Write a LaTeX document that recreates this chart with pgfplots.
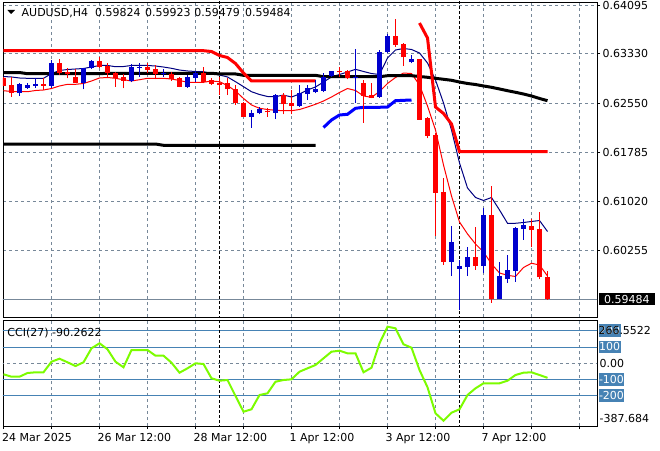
\documentclass[border=0pt]{standalone}
\usepackage{pgfplots}
\pgfplotsset{compat=1.18}
\usepackage{pgfplotstable}
\usepackage{fontspec}
\setmainfont{DejaVu Sans}
\definecolor{gridc}{HTML}{778899}
\definecolor{bullc}{HTML}{0000CD}
\definecolor{bearc}{HTML}{FF0000}
\definecolor{navyc}{HTML}{000080}
\definecolor{bluethick}{HTML}{0000FF}
\definecolor{lvl}{HTML}{4682B4}
\definecolor{ccic}{HTML}{7CFC00}

\pgfplotstableread{
k o h l c
2 0.62711 0.62868 0.62674 0.62852
3 0.62799 0.62877 0.62779 0.62841
4 0.62830 0.62946 0.62799 0.62857
6 0.62830 0.63233 0.62799 0.63181
10 0.62877 0.63112 0.62774 0.63103
11 0.63103 0.63233 0.63092 0.63217
16 0.62904 0.63166 0.62884 0.63119
17 0.63112 0.63181 0.62971 0.63128
20 0.63009 0.63092 0.62971 0.63025
23 0.62815 0.62998 0.62799 0.62962
24 0.62956 0.63061 0.62893 0.63034
31 0.62344 0.62449 0.62172 0.62398
32 0.62398 0.62501 0.62382 0.62460
34 0.62407 0.62695 0.62308 0.62684
37 0.62512 0.62841 0.62501 0.62711
38 0.62700 0.62841 0.62606 0.62790
39 0.62727 0.62920 0.62711 0.62779
40 0.62752 0.63025 0.62727 0.62971
41 0.62982 0.63068 0.62971 0.63061
44 0.62959 0.63405 0.62564 0.62970
47 0.62648 0.63390 0.62642 0.63354
48 0.63354 0.63641 0.63338 0.63609
51 0.63197 0.63311 0.63181 0.63244
56 0.60072 0.60631 0.59847 0.60385
57 0.59962 0.60098 0.59315 0.60004
58 0.59993 0.60297 0.59847 0.60141
60 0.60004 0.60909 0.59890 0.60804
62 0.59482 0.60072 0.59482 0.59847
63 0.59796 0.60177 0.59743 0.59942
64 0.59931 0.60620 0.59758 0.60605
65 0.60584 0.60736 0.60412 0.60647
}\bull

\pgfplotstableread{
k o h l c
0 0.62946 0.62959 0.62818 0.62830
1 0.62841 0.62971 0.62658 0.62711
5 0.62857 0.62946 0.62763 0.62830
7 0.63181 0.63244 0.62998 0.63034
8 0.63040 0.63103 0.62946 0.63009
9 0.62967 0.63087 0.62873 0.62877
12 0.63217 0.63285 0.63112 0.63128
13 0.63139 0.63181 0.62971 0.63025
14 0.63034 0.63050 0.62815 0.62956
15 0.62971 0.63009 0.62790 0.62904
18 0.63128 0.63181 0.63025 0.63076
19 0.63092 0.63155 0.62931 0.63009
21 0.63009 0.63040 0.62904 0.62931
22 0.62946 0.62962 0.62805 0.62815
25 0.63034 0.63128 0.62868 0.62884
26 0.62920 0.62946 0.62841 0.62857
27 0.62877 0.62962 0.62684 0.62841
28 0.62868 0.62946 0.62684 0.62774
29 0.62774 0.62841 0.62528 0.62564
30 0.62564 0.62580 0.62344 0.62344
33 0.62438 0.62476 0.62344 0.62413
35 0.62684 0.62711 0.62382 0.62539
36 0.62554 0.62763 0.62382 0.62512
42 0.63061 0.63128 0.62971 0.63040
43 0.63061 0.63076 0.62931 0.62956
45 0.62868 0.62920 0.62250 0.62669
46 0.62684 0.62868 0.62633 0.62642
49 0.63609 0.63876 0.63442 0.63468
50 0.63484 0.63504 0.63139 0.63275
52 0.63244 0.63244 0.62293 0.62293
53 0.62329 0.62344 0.62006 0.62042
54 0.62058 0.62089 0.60474 0.61153
55 0.61169 0.61379 0.60020 0.60072
59 0.60141 0.60611 0.59942 0.60004
61 0.60804 0.61258 0.59429 0.59482
66 0.60631 0.60736 0.60297 0.60568
67 0.60584 0.60855 0.59796 0.59824
68 0.59824 0.59923 0.59479 0.59484
}\bear

\pgfplotstableread{
k up dn ma
0 0.62974 0.62752 0.63037
1 0.62967 0.62739 0.63037
2 0.62951 0.62736 0.63037
3 0.62946 0.62736 0.63018
4 0.62946 0.62755 0.63018
5 0.62946 0.62763 0.63018
6 0.63021 0.62786 0.63018
7 0.63068 0.62826 0.63018
8 0.63084 0.62852 0.63018
9 0.63092 0.62852 0.63018
10 0.63100 0.62865 0.63018
11 0.63123 0.62904 0.63018
12 0.63147 0.62951 0.63018
13 0.63147 0.62959 0.63025
14 0.63128 0.62946 0.63025
15 0.63131 0.62924 0.63025
16 0.63147 0.62904 0.63025
17 0.63147 0.62924 0.63025
18 0.63147 0.62946 0.63025
19 0.63139 0.62946 0.63025
20 0.63123 0.62946 0.63025
21 0.63103 0.62935 0.63025
22 0.63076 0.62912 0.63025
23 0.63061 0.62884 0.63025
24 0.63053 0.62884 0.63025
25 0.63050 0.62884 0.63025
26 0.63021 0.62904 0.63025
27 0.62998 0.62893 0.63014
28 0.62967 0.62833 0.63014
29 0.62893 0.62747 0.63014
30 0.62815 0.62630 0.62993
31 0.62736 0.62528 0.62993
32 0.62692 0.62476 0.62993
33 0.62661 0.62457 0.62993
34 0.62658 0.62445 0.62993
35 0.62684 0.62438 0.62993
36 0.62653 0.62438 0.62993
37 0.62700 0.62457 0.62993
38 0.62763 0.62496 0.62993
39 0.62810 0.62539 0.62993
40 0.62888 0.62590 0.62971
41 0.62967 0.62653 0.62971
42 0.63006 0.62724 0.62971
43 0.63045 0.62786 0.62971
44 0.63087 0.62755 0.62971
45 0.63053 0.62669 0.62971
46 0.63021 0.62648 0.62971
47 0.63006 0.62739 0.62971
48 0.63264 0.62865 0.62987
49 0.63390 0.62959 0.62987
50 0.63413 0.63029 0.62987
51 0.63398 0.63021 0.62987
52 0.63343 0.62841 0.62974
53 0.63186 0.62512 0.62962
54 0.62920 0.62136 0.62946
55 0.62559 0.61587 0.62931
56 0.62136 0.61101 0.62915
57 0.61619 0.60694 0.62888
58 0.61227 0.60506 0.62865
59 0.61078 0.60349 0.62849
60 0.61031 0.60224 0.62826
61 0.61078 0.60036 0.62805
62 0.60882 0.59895 0.62779
63 0.60674 0.59858 0.62752
64 0.60674 0.59840 0.62727
65 0.60686 0.59981 0.62700
66 0.60702 0.60047 0.62669
67 0.60717 0.60020 0.62630
68 0.60545 0.59847 0.62595
}\ind

\pgfplotstableread{
k cci
0 -68.6
1 -83.4
2 -83.4
3 -60.6
4 -56.2
5 -56.2
6 9.2
7 27.7
8 5.5
9 -17.4
10 5.5
11 91.9
12 122.7
13 85.7
14 9.2
15 -25.4
16 81.4
17 81.4
18 81.4
19 46.2
20 46.2
21 3.0
22 -58.7
23 -31.6
24 -0.7
25 -5.0
26 -93.3
27 -108.1
28 -103.8
29 -202.5
30 -299.4
31 -284.6
32 -196.4
33 -185.9
34 -114.3
35 -103.8
36 -99.5
37 -52.5
38 -31.6
39 -11.2
40 30.2
41 70.9
42 77.1
43 61.0
44 61.0
45 -56.2
46 -27.9
47 122.7
48 225.2
49 215.3
50 116.6
51 95.6
52 -42.1
53 -148.8
54 -309.3
55 -355.0
56 -305.6
57 -284.6
58 -196.4
59 -155.0
60 -124.1
61 -124.1
62 -124.1
63 -108.1
64 -72.9
65 -58.7
66 -56.2
67 -72.9
68 -90.2622
}\ccitab

\tikzset{
  plabel/.style={anchor=west, inner sep=0pt, xshift=5.5pt},
  lvlbox/.style={anchor=west, inner xsep=0.5pt, inner ysep=2.3pt, text height=8pt, text depth=0pt, fill=lvl, text=white, xshift=1.3pt},
  datelab/.style={anchor=base west, inner sep=0pt, xshift=-2pt, yshift=-15.7pt},
}

\begin{document}
\fontsize{11}{13}\selectfont
\begin{tikzpicture}
\useasboundingbox (0,0) rectangle (660pt,450pt);
\begin{axis}[
  at={(3pt,133pt)}, anchor=south west, scale only axis,
  width=594pt, height=315pt,
  xmin=-0.0625, xmax=74.1875, ymin=0.592048, ymax=0.641422,
  clip mode=individual,
  axis line style={line width=0.8pt},
  xtick={0,6,...,72}, xticklabel=\empty, xmajorgrids,
  ytick={0.60255,0.6102,0.61785,0.6255,0.6333,0.64095}, yticklabel=\empty, ymajorgrids,
  grid style={gridc, line width=0.8pt, dash pattern=on 3pt off 3pt},
  ytick pos=right, xtick pos=bottom, tick align=outside,
  major tick length=3pt,
  xtick style={draw=none},
  ytick style={black, line width=0.8pt},
]
% current price line
\addplot[gridc, line width=0.8pt, forget plot] coordinates {(-1,0.59484) (76,0.59484)};
% period separators
\addplot[black, line width=0.8pt, dash pattern=on 3pt off 2pt, forget plot] coordinates {(27,0.58) (27,0.65)};
\addplot[black, line width=0.8pt, dash pattern=on 3pt off 2pt, forget plot] coordinates {(57,0.58) (57,0.65)};
% indicators
\addplot[navyc, line width=1pt, forget plot] table[x=k, y=up] {\ind};
\addplot[bearc, line width=1pt, forget plot] table[x=k, y=dn] {\ind};
\addplot[black, line width=3pt, forget plot] table[x=k, y=ma] {\ind};
\addplot[black, line width=3pt, forget plot] coordinates {(0,0.61916) (19,0.61916) (20,0.61896) (39,0.61896)};
\addplot[bearc, line width=3pt, forget plot] coordinates {(0,0.63379) (25,0.63379) (26,0.63366) (27,0.63304) (28,0.63272) (29,0.63178) (30,0.63029) (31,0.62904) (39,0.62904)};
\addplot[bearc, line width=3pt, forget plot] coordinates {(52,0.63813) (53,0.63578) (54,0.62496) (55,0.62395) (56,0.62230) (57,0.61796) (68,0.61796)};
\addplot[bluethick, line width=3pt, forget plot] coordinates {(40,0.62175) (41,0.62293) (42,0.62371) (43,0.62382) (44,0.62476) (45,0.62492) (46,0.62492) (47,0.62492) (48,0.62496) (49,0.62595) (50,0.62601) (51,0.62606)};
% candles (drawn in the foreground): wicks (low to high) and bodies (open to close)
\addplot[bullc, draw=none, mark=none, forget plot,
  error bars/.cd, y dir=plus, y explicit, error mark=none,
  error bar style={draw=bullc, solid, line width=1pt}]
  table[x=k, y=l, y error plus expr=\thisrow{h}-\thisrow{l}] {\bull};
\addplot[bearc, draw=none, mark=none, forget plot,
  error bars/.cd, y dir=plus, y explicit, error mark=none,
  error bar style={draw=bearc, solid, line width=1pt}]
  table[x=k, y=l, y error plus expr=\thisrow{h}-\thisrow{l}] {\bear};
\addplot[bullc, draw=none, mark=none, forget plot,
  error bars/.cd, y dir=plus, y explicit, error mark=none,
  error bar style={draw=bullc, solid, line width=5pt}]
  table[x=k, y=o, y error plus expr=\thisrow{c}-\thisrow{o}] {\bull};
\addplot[bearc, draw=none, mark=none, forget plot,
  error bars/.cd, y dir=plus, y explicit, error mark=none,
  error bar style={draw=bearc, solid, line width=5pt}]
  table[x=k, y=c, y error plus expr=\thisrow{o}-\thisrow{c}] {\bear};
% price labels
\node[plabel] at (axis cs:74.1875,0.64095) {0.64095};
\node[plabel] at (axis cs:74.1875,0.6333) {0.63330};
\node[plabel] at (axis cs:74.1875,0.6255) {0.62550};
\node[plabel] at (axis cs:74.1875,0.61785) {0.61785};
\node[plabel] at (axis cs:74.1875,0.6102) {0.61020};
\node[plabel] at (axis cs:74.1875,0.60255) {0.60255};
\node[anchor=west, inner xsep=4.5pt, inner ysep=2.3pt, text height=8pt, text depth=0pt, minimum width=56.7pt, fill=black, text=white, xshift=1.3pt] at (axis cs:74.1875,0.59484) {0.59484};
\end{axis}

\begin{axis}[
  at={(3pt,24pt)}, anchor=south west, scale only axis,
  width=594pt, height=106pt,
  xmin=-0.0625, xmax=74.1875, ymin=-387.684, ymax=266.5522,
  clip mode=individual,
  axis line style={line width=0.8pt},
  xtick={0,6,...,72}, xticklabel=\empty, xmajorgrids, ytick=\empty,
  grid style={gridc, line width=0.8pt, dash pattern=on 3pt off 3pt},
  xtick pos=bottom, tick align=outside, major tick length=3pt,
  xtick style={black, line width=0.8pt},
]
\addplot[lvl, line width=0.8pt, forget plot] coordinates {(-1,200) (76,200)};
\addplot[lvl, line width=0.8pt, forget plot] coordinates {(-1,100) (76,100)};
\addplot[lvl, line width=0.8pt, forget plot] coordinates {(-1,-100) (76,-100)};
\addplot[lvl, line width=0.8pt, forget plot] coordinates {(-1,-200) (76,-200)};
\addplot[gridc, line width=0.8pt, dash pattern=on 3pt off 3pt, forget plot] coordinates {(-1,0) (76,0)};
\addplot[black, line width=0.8pt, dash pattern=on 3pt off 2pt, forget plot] coordinates {(27,-400) (27,300)};
\addplot[black, line width=0.8pt, dash pattern=on 3pt off 2pt, forget plot] coordinates {(57,-400) (57,300)};
\addplot[ccic, line width=2pt, forget plot] table[x=k, y=cci] {\ccitab};
% level labels
\node[lvlbox] at (axis cs:74.1875,200) {200};
\node[lvlbox] at (axis cs:74.1875,100) {100};
\node[lvlbox] at (axis cs:74.1875,-100) {-100};
\node[lvlbox] at (axis cs:74.1875,-200) {-200};
\node[anchor=west, inner sep=0pt, xshift=1.3pt] at (axis cs:74.1875,204.8) {266.5522};
\node[anchor=west, inner sep=0pt, xshift=2.3pt] at (axis cs:74.1875,0) {0.00};
\node[anchor=west, inner sep=0pt, xshift=2.5pt] at (axis cs:74.1875,-340.2) {-387.684};
\node[anchor=base west, inner sep=0pt, xshift=3.7pt, yshift=-16pt] at (axis cs:0,266.5522) {CCI(27) -90.2622};
% date labels
\node[datelab, xshift=0.4pt] at (axis cs:0,-387.684) {24 Mar 2025};
\node[datelab] at (axis cs:12,-387.684) {26 Mar 12:00};
\node[datelab] at (axis cs:24,-387.684) {28 Mar 12:00};
\node[datelab] at (axis cs:36,-387.684) {1 Apr 12:00};
\node[datelab] at (axis cs:48,-387.684) {3 Apr 12:00};
\node[datelab] at (axis cs:60,-387.684) {7 Apr 12:00};
\end{axis}

% title
\fill (7.3pt,440pt) -- (15pt,440pt) -- (11.15pt,436pt) -- cycle;
\node[anchor=base west, inner sep=0pt] at (21.5pt,433.3pt) {AUDUSD,H4};
\node[anchor=base west, inner sep=0pt] at (94.9pt,433.3pt) {0.59824};
\node[anchor=base west, inner sep=0pt] at (144.9pt,433.3pt) {0.59923};
\node[anchor=base west, inner sep=0pt] at (194.2pt,433.3pt) {0.59479};
\node[anchor=base west, inner sep=0pt] at (244.9pt,433.3pt) {0.59484};
\end{tikzpicture}
\end{document}
